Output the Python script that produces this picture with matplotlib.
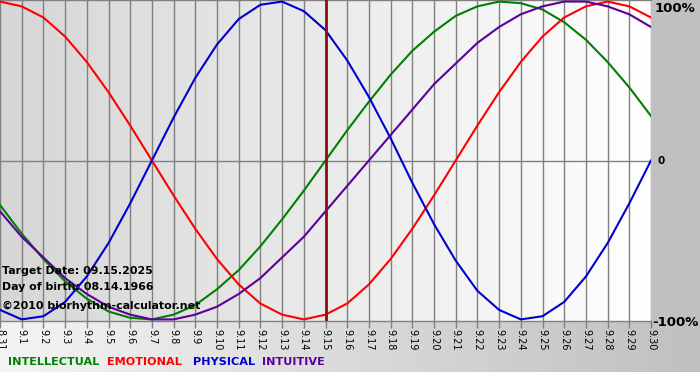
import numpy as np
import matplotlib
matplotlib.use("Agg")
import matplotlib.pyplot as plt

# days shown, 08.31 .. 09.30
day_labels = ["8.31"] + ["9.%d" % d for d in range(1, 31)]
target_index = 15  # 9.15

# biorhythm values, one per day (-1 .. 1)
intellectual = [-0.28, -0.46, -0.62, -0.76, -0.87, -0.95, -0.99, -1.00, -0.97, -0.91,
                -0.81, -0.69, -0.54, -0.37, -0.19, 0.00, 0.19, 0.37, 0.54, 0.69,
                0.81, 0.91, 0.97, 1.00, 0.99, 0.95, 0.87, 0.76, 0.62, 0.46, 0.28]
emotional = [1.00, 0.97, 0.90, 0.78, 0.62, 0.43, 0.22, 0.00, -0.22, -0.43,
             -0.62, -0.78, -0.90, -0.97, -1.00, -0.97, -0.90, -0.78, -0.62, -0.43,
             -0.22, 0.00, 0.22, 0.43, 0.62, 0.78, 0.90, 0.97, 1.00, 0.97, 0.90]
physical = [-0.94, -1.00, -0.98, -0.89, -0.73, -0.52, -0.27, 0.00, 0.27, 0.52,
            0.73, 0.89, 0.98, 1.00, 0.94, 0.82, 0.63, 0.40, 0.14, -0.14,
            -0.40, -0.63, -0.82, -0.94, -1.00, -0.98, -0.89, -0.73, -0.52, -0.27, 0.00]
intuitive = [-0.32, -0.48, -0.61, -0.74, -0.84, -0.92, -0.97, -1.00, -1.00, -0.97,
             -0.92, -0.84, -0.74, -0.61, -0.48, -0.32, -0.16, 0.00, 0.16, 0.32,
             0.48, 0.61, 0.74, 0.84, 0.92, 0.97, 1.00, 1.00, 0.97, 0.92, 0.84]

series = [("INTELLECTUAL", intellectual, "#008000"),
          ("EMOTIONAL", emotional, "#ff0000"),
          ("PHYSICAL", physical, "#0000cc"),
          ("INTUITIVE", intuitive, "#5c0099")]

W, H = 700, 380
fig = plt.figure(figsize=(7, 3.8), dpi=100)

# background in pixel coords
bg = fig.add_axes([0, 0, 1, 1], zorder=0)
bg.set_xlim(0, W)
bg.set_ylim(H, 0)
bg.set_axis_off()
grad = np.linspace(0, 1, 256).reshape(1, -1)
bg.imshow(grad, cmap=plt.cm.colors.LinearSegmentedColormap.from_list("b", ["#f4f4f4", "#c0c0c0"]),
          extent=[0, W, 372, 321], aspect="auto")
bg.add_patch(plt.Rectangle((651, 0), 49, 321, color="#c0c0c0", lw=0))
bg.imshow(grad, cmap=plt.cm.colors.LinearSegmentedColormap.from_list("p", ["#d6d6d6", "#ffffff"]),
          extent=[0, 651, 321, 0], aspect="auto")

ax = fig.add_axes([0, 1 - 321 / H, 651 / W, 321 / H], zorder=1)
ax.patch.set_visible(False)
x = np.arange(len(day_labels))
ax.set_xlim(0, len(day_labels) - 1)
ax.set_ylim(-1.01, 1.01)

for xi in x:
    ax.axvline(xi, color="#808080", lw=1, zorder=1)
ax.axhline(0, color="#808080", lw=1, zorder=1)

for name, vals, col in series:
    ax.plot(x, vals, color=col, lw=1.5, zorder=3, solid_joinstyle="round")

ax.axvline(target_index, color="#8b1010", lw=2, zorder=4)

ax.set_yticks([])
ax.set_xticks(x)
ax.set_xticklabels(day_labels, rotation=-90, fontsize=7, va="top")
ax.tick_params(axis="x", direction="out", length=5, width=1, color="#808080", pad=1)
for s in ax.spines.values():
    s.set_color("#808080")
    s.set_linewidth(1)
ax.spines["left"].set_visible(False)
ax.spines["right"].set_visible(False)

# right scale labels
fig.text(655 / W, 1 - 8 / H, "100%", fontsize=9.5, fontweight="bold", va="center", ha="left")
fig.text(658 / W, 1 - 161 / H, "0", fontsize=7.5, fontweight="bold", va="center", ha="left")
fig.text(652 / W, 1 - 322 / H, "-100%", fontsize=9.5, fontweight="bold", va="center", ha="left")

# info text
info = ["Target Date: 09.15.2025", "Day of birth: 08.14.1966", "©2010 biorhythm-calculator.net"]
info_y = [271, 287, 306]
for t, yy in zip(info, info_y):
    fig.text(2 / W, 1 - yy / H, t, fontsize=7.95, fontweight="bold", va="center", ha="left", zorder=5)

# legend
leg_x = [8, 107, 193, 262]
for (name, vals, col), lx in zip(series, leg_x):
    fig.text(lx / W, 1 - 362 / H, name, color=col, fontsize=8.1, fontweight="bold",
             va="center", ha="left")

fig.savefig("out.png", dpi=100)
